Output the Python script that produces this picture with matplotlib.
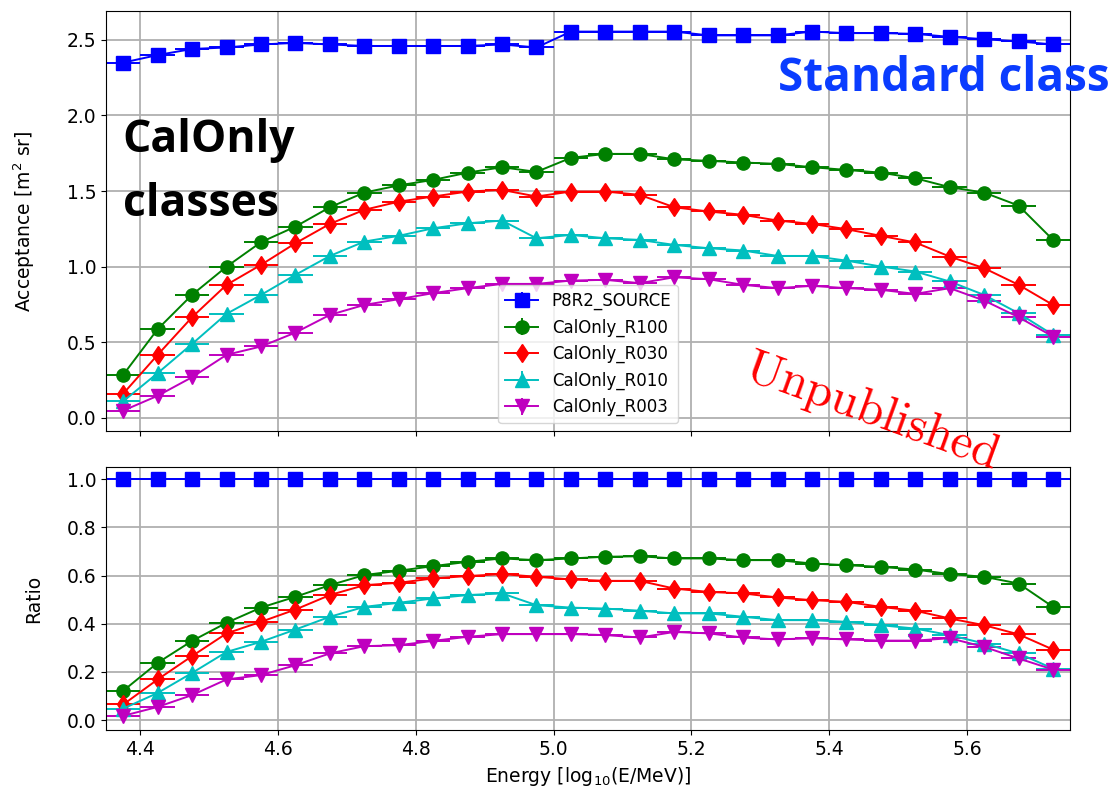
import numpy as np
import matplotlib.pyplot as plt

# energy binning, log10(E/MeV)
bin_edges = np.linspace(4.35, 5.75, 29)
energy = 0.5 * (bin_edges[1:] + bin_edges[:-1])
half_width = 0.5 * np.diff(bin_edges)

labels = ['P8R2_SOURCE', 'CalOnly_R100', 'CalOnly_R030', 'CalOnly_R010', 'CalOnly_R003']
colors = ['b', 'g', 'r', 'c', 'm']
markers = ['s', 'o', 'd', '^', 'v']

# acceptance [m^2 sr]
acc_source = [2.35, 2.40, 2.44, 2.45, 2.47, 2.48, 2.47, 2.46, 2.46, 2.46, 2.46, 2.47, 2.45, 2.555,
              2.555, 2.555, 2.555, 2.53, 2.53, 2.53, 2.555, 2.545, 2.545, 2.54, 2.52, 2.505, 2.49, 2.47]
acc_r100 = [0.285, 0.587, 0.814, 1.00, 1.162, 1.265, 1.393, 1.49, 1.538, 1.574, 1.622, 1.658, 1.627, 1.72,
            1.746, 1.746, 1.71, 1.70, 1.689, 1.68, 1.658, 1.64, 1.622, 1.585, 1.526, 1.49, 1.404, 1.177]
acc_r030 = [0.16, 0.417, 0.666, 0.88, 1.012, 1.155, 1.283, 1.376, 1.43, 1.464, 1.497, 1.508, 1.464, 1.497,
            1.497, 1.475, 1.393, 1.365, 1.343, 1.305, 1.283, 1.248, 1.204, 1.16, 1.067, 0.99, 0.88, 0.747]
acc_r010 = [0.11, 0.296, 0.489, 0.688, 0.813, 0.946, 1.071, 1.166, 1.204, 1.254, 1.287, 1.305, 1.188, 1.21,
            1.188, 1.177, 1.144, 1.122, 1.107, 1.071, 1.071, 1.04, 1.001, 0.968, 0.902, 0.813, 0.692, 0.549]
acc_r003 = [0.048, 0.146, 0.269, 0.417, 0.472, 0.564, 0.681, 0.747, 0.785, 0.825, 0.858, 0.886, 0.886, 0.908,
            0.913, 0.891, 0.93, 0.917, 0.88, 0.858, 0.873, 0.858, 0.847, 0.82, 0.858, 0.776, 0.666, 0.538]

# ratio to P8R2_SOURCE
ratio_source = [1.0] * 28
ratio_r100 = [0.122, 0.238, 0.329, 0.404, 0.467, 0.512, 0.56, 0.602, 0.62, 0.639, 0.657, 0.671, 0.664, 0.671,
              0.678, 0.68, 0.671, 0.671, 0.664, 0.664, 0.65, 0.643, 0.636, 0.625, 0.606, 0.595, 0.567, 0.47]
ratio_r030 = [0.065, 0.169, 0.266, 0.36, 0.408, 0.459, 0.519, 0.56, 0.57, 0.588, 0.598, 0.606, 0.595, 0.584,
              0.578, 0.578, 0.546, 0.532, 0.526, 0.509, 0.498, 0.491, 0.47, 0.454, 0.422, 0.394, 0.356, 0.293]
ratio_r010 = [0.048, 0.113, 0.196, 0.283, 0.325, 0.376, 0.429, 0.47, 0.487, 0.505, 0.519, 0.526, 0.477, 0.467,
              0.463, 0.454, 0.443, 0.443, 0.429, 0.415, 0.415, 0.408, 0.394, 0.38, 0.353, 0.318, 0.277, 0.214]
ratio_r003 = [0.018, 0.055, 0.104, 0.169, 0.187, 0.228, 0.277, 0.307, 0.311, 0.329, 0.346, 0.357, 0.357, 0.357,
              0.353, 0.343, 0.366, 0.36, 0.343, 0.335, 0.34, 0.335, 0.33, 0.33, 0.34, 0.304, 0.256, 0.21]

acceptance = [acc_source, acc_r100, acc_r030, acc_r010, acc_r003]
ratios = [ratio_source, ratio_r100, ratio_r030, ratio_r010, ratio_r003]

plt.rcParams['font.size'] = 13.5

fig = plt.figure(figsize=(11.16, 7.99), dpi=100)
ax1 = fig.add_axes([0.095, 0.460, 0.864, 0.526])
ax2 = fig.add_axes([0.095, 0.086, 0.864, 0.330], sharex=ax1)

for i in range(len(labels)):
    style = dict(color=colors[i], marker=markers[i], markersize=9.5, linewidth=1.4,
                 elinewidth=1.4, capsize=0, label=labels[i])
    ax1.errorbar(energy, acceptance[i], xerr=half_width, yerr=0.01, **style)
    ax2.errorbar(energy, ratios[i], xerr=half_width, yerr=0.004, **style)

ax1.set_xlim(4.35, 5.75)
ax1.set_ylim(-0.09, 2.69)
ax2.set_ylim(-0.042, 1.052)
ax1.set_yticks([0.0, 0.5, 1.0, 1.5, 2.0, 2.5])
ax2.set_yticks([0.0, 0.2, 0.4, 0.6, 0.8, 1.0])
ax2.set_xticks([4.4, 4.6, 4.8, 5.0, 5.2, 5.4, 5.6])
ax1.tick_params(labelbottom=False)

for ax in (ax1, ax2):
    ax.grid(True, color='#b0b0b0', linewidth=1.3)
    ax.set_axisbelow(True)

ax1.set_ylabel('Acceptance [m$^2$ sr]')
ax2.set_ylabel('Ratio')
ax2.set_xlabel('Energy [log$_{10}$(E/MeV)]')
ax1.yaxis.set_label_coords(-0.0715, 0.5)
ax2.yaxis.set_label_coords(-0.065, 0.5)

ax1.legend(loc='lower center', fontsize=12, framealpha=0.8)

# class annotations
fig.text(0.110, 0.852, 'CalOnly\nclasses', fontsize=32, fontweight='bold',
         family='Open Sans', color='black', va='top', ha='left', linespacing=1.55)
fig.text(0.697, 0.886, 'Standard class', fontsize=33, fontweight='bold',
         family='Open Sans', color='#0a3cff', va='baseline', ha='left')
fig.text(0.781, 0.485, r'$\mathrm{Unpublished}$', fontsize=35, color='red',
         rotation=-20, ha='center', va='center', math_fontfamily='cm')

fig.savefig('out.png', dpi=100)
